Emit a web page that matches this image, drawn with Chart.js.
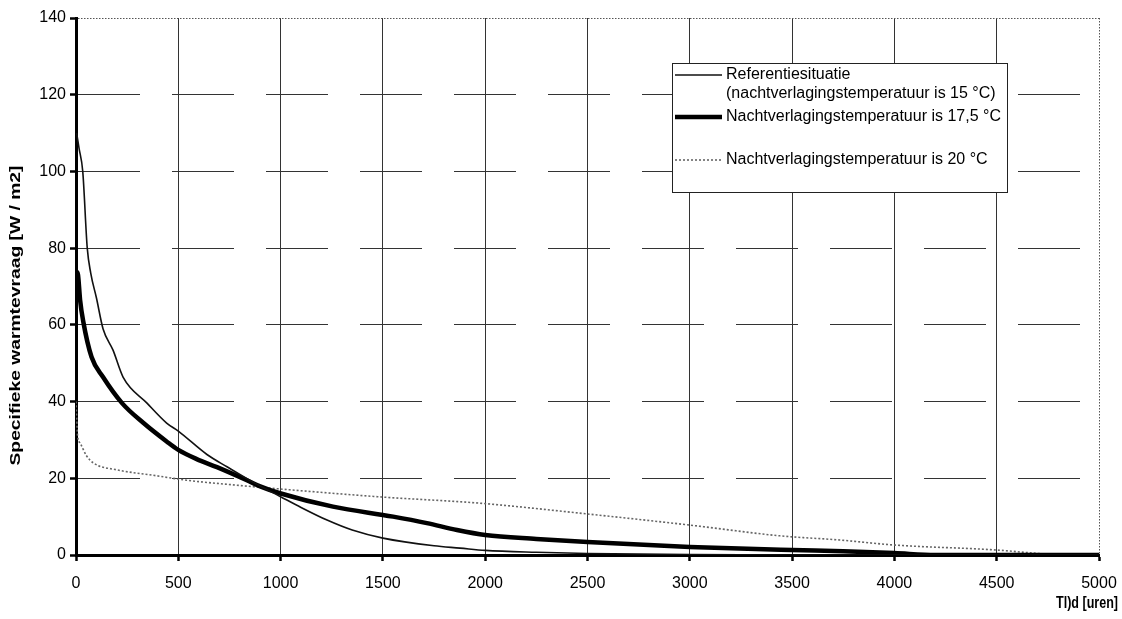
<!DOCTYPE html>
<html>
<head>
<meta charset="utf-8">
<script src="https://cdn.jsdelivr.net/npm/chart.js@4/dist/chart.umd.min.js"></script>
<style>
  html, body { margin: 0; padding: 0; background: #fff; }
  #wrap { width: 1122px; height: 619px; position: relative; }
</style>
</head>
<body>
<div id="wrap"><canvas id="c" width="1122" height="619"></canvas></div>
<script>
// Duurkromme specifieke warmtevraag bij verschillende nachtverlagingstemperaturen
const hours15 = [3, 15, 33, 55, 72, 100, 132, 181, 230, 347, 443, 500, 640, 738, 865, 1000, 1100, 1227, 1350, 1500, 1750, 1877, 2000, 2250, 2500, 3000, 3500, 5000];
const load15  = [110, 106, 100, 80, 73.5, 67, 59, 53.4, 46.4, 39.6, 34.4, 32.3, 26.2, 23, 19, 15.2, 12.4, 9.1, 6.5, 4.4, 2.4, 1.8, 1.2, 0.7, 0.4, 0.1, 0, 0];

const hours175 = [3, 10, 20, 35, 76, 132, 225, 330, 443, 500, 590, 689, 835, 900, 997, 1256, 1550, 1715, 1862, 2000, 2250, 2500, 3000, 3500, 3750, 4000, 4200, 5000];
const load175  = [74, 73, 66.5, 61, 51.6, 46.4, 39.6, 34.4, 29.6, 27.4, 25, 22.9, 19.5, 17.9, 16.1, 12.6, 10, 8.3, 6.5, 5.2, 4.2, 3.4, 2.1, 1.3, 1.0, 0.5, 0, 0];

const hours20 = [0, 8, 20, 50, 85, 200, 376, 540, 785, 1000, 1500, 1975, 2500, 3000, 3440, 3734, 4000, 4500, 4700, 4820, 5000];
const load20  = [40, 31, 29.2, 26, 24, 22.2, 20.8, 19.5, 18.2, 17.2, 15.1, 13.5, 10.7, 7.8, 5, 3.9, 2.6, 1.3, 0.4, 0, 0];

const seriesLabels = [
  ['Referentiesituatie', '(nachtverlagingstemperatuur is 15 °C)'],
  ['Nachtverlagingstemperatuur is 17,5 °C'],
  ['Nachtverlagingstemperatuur is 20 °C']
];
const xTicks = [0, 500, 1000, 1500, 2000, 2500, 3000, 3500, 4000, 4500, 5000];
const yTicks = [0, 20, 40, 60, 80, 100, 120, 140];
const xTitle = 'Tl)d [uren]';
const yTitle = 'Specifieke warmtevraag [W / m2]';

const toPoints = (xs, ys) => xs.map((x, i) => ({ x: x, y: ys[i] }));

const FONT = '"Liberation Sans", Arial, Helvetica, sans-serif';

// Legend box drawn inside the plot area
const boxLegend = {
  id: 'boxLegend',
  afterDraw(chart, args, opts) {
    const ctx = chart.ctx;
    const a = chart.chartArea;
    const left = a.left + opts.left, top = a.top + opts.top;
    ctx.save();
    ctx.fillStyle = '#fff';
    ctx.fillRect(left, top, opts.width, opts.height);
    ctx.strokeStyle = '#222';
    ctx.lineWidth = 1;
    ctx.strokeRect(left + 0.5, top + 0.5, opts.width, opts.height);
    ctx.font = opts.font;
    ctx.textBaseline = 'middle';
    ctx.textAlign = 'left';
    ctx.fillStyle = '#000';
    chart.data.datasets.forEach((ds, i) => {
      const rowY = top + opts.rows[i];
      ctx.save();
      ctx.strokeStyle = ds.borderColor;
      ctx.lineWidth = ds.borderWidth;
      ctx.setLineDash(ds.borderDash || []);
      ctx.beginPath();
      ctx.moveTo(left + 3, rowY);
      ctx.lineTo(left + 50, rowY);
      ctx.stroke();
      ctx.restore();
      const lines = Array.isArray(ds.label) ? ds.label : [ds.label];
      lines.forEach((t, j) => ctx.fillText(t, left + 54, rowY + j * opts.lineGap));
    });
    ctx.restore();
  }
};

// Axis titles: rotated y title left of the ticks, x title under the right end
const axisTitles = {
  id: 'axisTitles',
  afterDraw(chart) {
    const ctx = chart.ctx;
    const a = chart.chartArea;
    ctx.save();
    ctx.fillStyle = '#000';
    ctx.textBaseline = 'middle';
    // y title, stretched along its length
    ctx.save();
    ctx.translate(16, (a.top + a.bottom) / 2 + 29);
    ctx.rotate(-Math.PI / 2);
    ctx.font = 'bold 15px ' + FONT;
    const w = ctx.measureText(yTitle).width;
    ctx.scale(300 / w, 1);
    ctx.textAlign = 'center';
    ctx.fillText(yTitle, 0, 0);
    ctx.restore();
    // x title
    ctx.font = 'bold 16px ' + FONT;
    const wx = ctx.measureText(xTitle).width;
    ctx.save();
    ctx.translate(a.right + 19, a.bottom + 49);
    ctx.scale(62 / wx, 1);
    ctx.textAlign = 'right';
    ctx.fillText(xTitle, 0, 0);
    ctx.restore();
    ctx.restore();
  }
};

new Chart(document.getElementById('c'), {
  type: 'line',
  data: {
    datasets: [
      {
        label: seriesLabels[0],
        data: toPoints(hours15, load15),
        borderColor: '#111',
        borderWidth: 1.6,
        pointRadius: 0,
        cubicInterpolationMode: 'monotone'
      },
      {
        label: seriesLabels[1],
        data: toPoints(hours175, load175),
        borderColor: '#000',
        borderWidth: 4.5,
        pointRadius: 0,
        cubicInterpolationMode: 'monotone'
      },
      {
        label: seriesLabels[2],
        data: toPoints(hours20, load20),
        borderColor: '#666',
        borderWidth: 1.6,
        borderDash: [2, 2],
        pointRadius: 0,
        cubicInterpolationMode: 'monotone'
      }
    ]
  },
  options: {
    responsive: false,
    animation: false,
    events: [],
    layout: { padding: { top: 18, right: 23, left: 0, bottom: 0 } },
    plugins: {
      legend: { display: false },
      tooltip: { enabled: false },
      boxLegend: {
        left: 596, top: 45, width: 335, height: 129,
        rows: [12, 54, 97], lineGap: 19,
        font: '16px ' + FONT
      }
    },
    scales: {
      x: {
        type: 'linear',
        min: 0, max: 5000,
        afterBuildTicks: s => { s.ticks = xTicks.map(v => ({ value: v })); },
        afterFit: s => { s.height = 64; s.paddingLeft = 0; s.paddingRight = 0; },
        ticks: {
          color: '#000', font: { family: FONT, size: 16 }, padding: 13, maxRotation: 0,
          callback: v => String(v)
        },
        grid: {
          color: c => (c.tick && c.tick.value === 5000) ? '#555' : '#333',
          lineWidth: 1,
          drawTicks: true,
          tickLength: 6,
          tickWidth: 2.5,
          tickColor: '#000',
          tickBorderDash: []
        },
        border: {
          display: true, color: '#000', width: 3,
          dash: c => (c.tick && c.tick.value === 5000) ? [1.5, 1.5] : []
        }
      },
      y: {
        type: 'linear',
        min: 0, max: 140,
        afterBuildTicks: s => { s.ticks = yTicks.map(v => ({ value: v })); },
        afterFit: s => { s.width = 76; s.paddingTop = 0; s.paddingBottom = 0; },
        ticks: {
          color: '#000', font: { family: FONT, size: 16 }, padding: 4,
          callback: v => String(v)
        },
        grid: {
          color: c => (c.tick && c.tick.value === 140) ? '#555' : '#333',
          lineWidth: 1,
          drawTicks: true,
          tickLength: 6,
          tickWidth: 2.5,
          tickColor: '#000',
          tickBorderDash: []
        },
        border: {
          display: true, color: '#000', width: 3,
          dash: c => (c.tick && c.tick.value === 140) ? [1.5, 1.5] : [62, 32]
        }
      }
    }
  },
  plugins: [boxLegend, axisTitles]
});
</script>
</body>
</html>
